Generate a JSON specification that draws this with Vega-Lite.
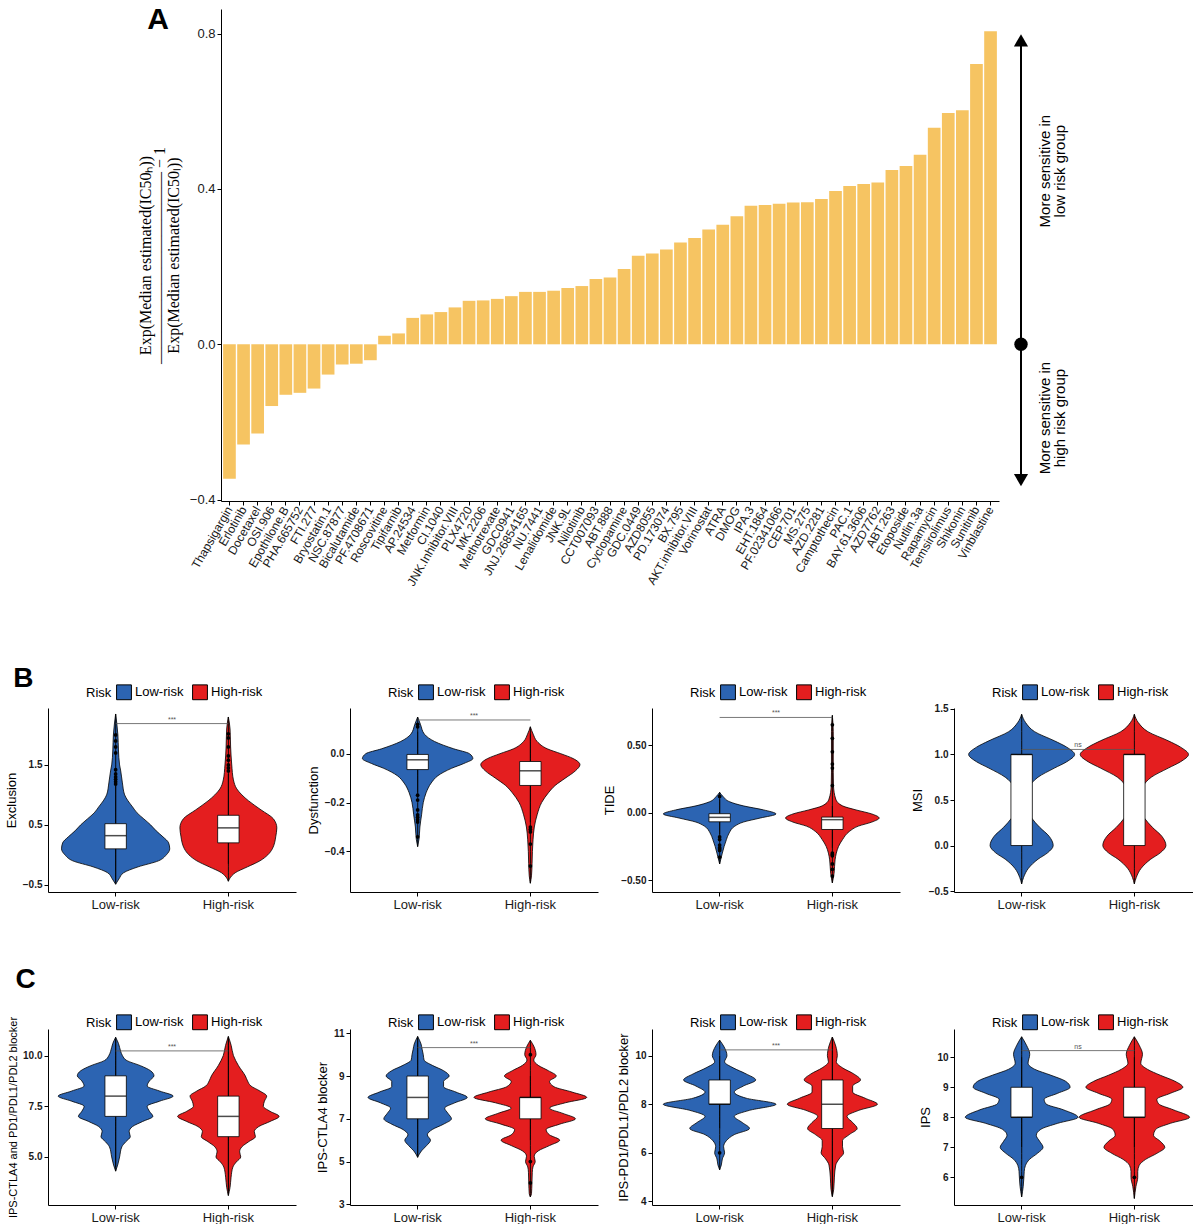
{
"$schema":"https://vega.github.io/schema/vega-lite/v6.json",
"background":"white",
"padding":{"left":5,"top":5,"right":0,"bottom":0},
"spacing":55,
"datasets":{
"bars":[
{"drug":"Thapsigargin","val":-0.346},{"drug":"Erlotinib","val":-0.258},{"drug":"Docetaxel","val":-0.23},{"drug":"OSI.906","val":-0.159},{"drug":"Epothilone.B","val":-0.13},{"drug":"PHA.665752","val":-0.125},{"drug":"FTI.277","val":-0.114},{"drug":"Bryostatin.1","val":-0.078},{"drug":"NSC.87877","val":-0.052},{"drug":"Bicalutamide","val":-0.05},{"drug":"PF.4708671","val":-0.041},{"drug":"Roscovitine","val":0.022},{"drug":"Tipifarnib","val":0.028},{"drug":"AP.24534","val":0.068},{"drug":"Metformin","val":0.077},{"drug":"CI.1040","val":0.083},{"drug":"JNK.Inhibitor.VIII","val":0.095},{"drug":"PLX4720","val":0.112},{"drug":"MK.2206","val":0.113},{"drug":"Methotrexate","val":0.117},{"drug":"GDC0941","val":0.124},{"drug":"JNJ.26854165","val":0.135},{"drug":"NU.7441","val":0.135},{"drug":"Lenalidomide","val":0.138},{"drug":"JNK.9L","val":0.145},{"drug":"Nilotinib","val":0.15},{"drug":"CCT007093","val":0.168},{"drug":"ABT.888","val":0.172},{"drug":"Cyclopamine","val":0.194},{"drug":"GDC.0449","val":0.228},{"drug":"AZD8055","val":0.234},{"drug":"PD.173074","val":0.244},{"drug":"BX.795","val":0.262},{"drug":"AKT.inhibitor.VIII","val":0.274},{"drug":"Vorinostat","val":0.296},{"drug":"ATRA","val":0.308},{"drug":"DMOG","val":0.33},{"drug":"IPA.3","val":0.357},{"drug":"EHT.1864","val":0.359},{"drug":"PF.02341066","val":0.362},{"drug":"CEP.701","val":0.365},{"drug":"MS.275","val":0.366},{"drug":"AZD.2281","val":0.374},{"drug":"Camptothecin","val":0.395},{"drug":"PAC.1","val":0.408},{"drug":"BAY.61.3606","val":0.413},{"drug":"AZD7762","val":0.417},{"drug":"ABT.263","val":0.449},{"drug":"Etoposide","val":0.459},{"drug":"Nutlin.3a","val":0.488},{"drug":"Rapamycin","val":0.558},{"drug":"Temsirolimus","val":0.596},{"drug":"Shikonin","val":0.603},{"drug":"Sunitinib","val":0.722},{"drug":"Vinblastine","val":0.806}
],
"vio":[
{"p":"B1","g":"Low-risk","v":-0.49,"d":0},{"p":"B1","g":"Low-risk","v":-0.4,"d":0.03},{"p":"B1","g":"Low-risk","v":-0.3,"d":0.07},{"p":"B1","g":"Low-risk","v":-0.2,"d":0.2},{"p":"B1","g":"Low-risk","v":-0.1,"d":0.38},{"p":"B1","g":"Low-risk","v":0,"d":0.45},{"p":"B1","g":"Low-risk","v":0.1,"d":0.48},{"p":"B1","g":"Low-risk","v":0.2,"d":0.47},{"p":"B1","g":"Low-risk","v":0.3,"d":0.42},{"p":"B1","g":"Low-risk","v":0.4,"d":0.36},{"p":"B1","g":"Low-risk","v":0.5,"d":0.31},{"p":"B1","g":"Low-risk","v":0.6,"d":0.25},{"p":"B1","g":"Low-risk","v":0.7,"d":0.19},{"p":"B1","g":"Low-risk","v":0.8,"d":0.15},{"p":"B1","g":"Low-risk","v":0.9,"d":0.11},{"p":"B1","g":"Low-risk","v":1.0,"d":0.08},{"p":"B1","g":"Low-risk","v":1.2,"d":0.06},{"p":"B1","g":"Low-risk","v":1.4,"d":0.045},{"p":"B1","g":"Low-risk","v":1.5,"d":0.035},{"p":"B1","g":"Low-risk","v":1.75,"d":0.025},{"p":"B1","g":"Low-risk","v":2.0,"d":0.02},{"p":"B1","g":"Low-risk","v":2.2,"d":0.01},{"p":"B1","g":"Low-risk","v":2.35,"d":0},
{"p":"B1","g":"High-risk","v":-0.44,"d":0},{"p":"B1","g":"High-risk","v":-0.35,"d":0.03},{"p":"B1","g":"High-risk","v":-0.3,"d":0.06},{"p":"B1","g":"High-risk","v":-0.2,"d":0.17},{"p":"B1","g":"High-risk","v":-0.1,"d":0.28},{"p":"B1","g":"High-risk","v":0,"d":0.35},{"p":"B1","g":"High-risk","v":0.1,"d":0.39},{"p":"B1","g":"High-risk","v":0.2,"d":0.41},{"p":"B1","g":"High-risk","v":0.3,"d":0.42},{"p":"B1","g":"High-risk","v":0.45,"d":0.43},{"p":"B1","g":"High-risk","v":0.6,"d":0.4},{"p":"B1","g":"High-risk","v":0.75,"d":0.29},{"p":"B1","g":"High-risk","v":0.9,"d":0.18},{"p":"B1","g":"High-risk","v":1.0,"d":0.12},{"p":"B1","g":"High-risk","v":1.1,"d":0.075},{"p":"B1","g":"High-risk","v":1.25,"d":0.045},{"p":"B1","g":"High-risk","v":1.5,"d":0.03},{"p":"B1","g":"High-risk","v":1.8,"d":0.02},{"p":"B1","g":"High-risk","v":2.1,"d":0.015},{"p":"B1","g":"High-risk","v":2.3,"d":0},
{"p":"B2","g":"Low-risk","v":-0.38,"d":0},{"p":"B2","g":"Low-risk","v":-0.35,"d":0.012},{"p":"B2","g":"Low-risk","v":-0.3,"d":0.02},{"p":"B2","g":"Low-risk","v":-0.25,"d":0.035},{"p":"B2","g":"Low-risk","v":-0.2,"d":0.05},{"p":"B2","g":"Low-risk","v":-0.16,"d":0.075},{"p":"B2","g":"Low-risk","v":-0.12,"d":0.12},{"p":"B2","g":"Low-risk","v":-0.09,"d":0.18},{"p":"B2","g":"Low-risk","v":-0.06,"d":0.3},{"p":"B2","g":"Low-risk","v":-0.04,"d":0.41},{"p":"B2","g":"Low-risk","v":-0.02,"d":0.49},{"p":"B2","g":"Low-risk","v":0,"d":0.46},{"p":"B2","g":"Low-risk","v":0.02,"d":0.32},{"p":"B2","g":"Low-risk","v":0.05,"d":0.15},{"p":"B2","g":"Low-risk","v":0.08,"d":0.06},{"p":"B2","g":"Low-risk","v":0.12,"d":0.025},{"p":"B2","g":"Low-risk","v":0.15,"d":0},
{"p":"B2","g":"High-risk","v":-0.53,"d":0},{"p":"B2","g":"High-risk","v":-0.5,"d":0.01},{"p":"B2","g":"High-risk","v":-0.45,"d":0.015},{"p":"B2","g":"High-risk","v":-0.4,"d":0.018},{"p":"B2","g":"High-risk","v":-0.35,"d":0.024},{"p":"B2","g":"High-risk","v":-0.3,"d":0.035},{"p":"B2","g":"High-risk","v":-0.25,"d":0.06},{"p":"B2","g":"High-risk","v":-0.2,"d":0.1},{"p":"B2","g":"High-risk","v":-0.16,"d":0.16},{"p":"B2","g":"High-risk","v":-0.13,"d":0.22},{"p":"B2","g":"High-risk","v":-0.1,"d":0.31},{"p":"B2","g":"High-risk","v":-0.07,"d":0.4},{"p":"B2","g":"High-risk","v":-0.045,"d":0.44},{"p":"B2","g":"High-risk","v":-0.02,"d":0.38},{"p":"B2","g":"High-risk","v":0,"d":0.27},{"p":"B2","g":"High-risk","v":0.02,"d":0.15},{"p":"B2","g":"High-risk","v":0.05,"d":0.06},{"p":"B2","g":"High-risk","v":0.08,"d":0.025},{"p":"B2","g":"High-risk","v":0.11,"d":0},
{"p":"B3","g":"Low-risk","v":-0.38,"d":0},{"p":"B3","g":"Low-risk","v":-0.3,"d":0.024},{"p":"B3","g":"Low-risk","v":-0.25,"d":0.04},{"p":"B3","g":"Low-risk","v":-0.2,"d":0.06},{"p":"B3","g":"Low-risk","v":-0.15,"d":0.085},{"p":"B3","g":"Low-risk","v":-0.1,"d":0.135},{"p":"B3","g":"Low-risk","v":-0.07,"d":0.21},{"p":"B3","g":"Low-risk","v":-0.04,"d":0.36},{"p":"B3","g":"Low-risk","v":-0.01,"d":0.5},{"p":"B3","g":"Low-risk","v":0.02,"d":0.39},{"p":"B3","g":"Low-risk","v":0.05,"d":0.21},{"p":"B3","g":"Low-risk","v":0.08,"d":0.09},{"p":"B3","g":"Low-risk","v":0.12,"d":0.03},{"p":"B3","g":"Low-risk","v":0.15,"d":0},
{"p":"B3","g":"High-risk","v":-0.52,"d":0},{"p":"B3","g":"High-risk","v":-0.45,"d":0.015},{"p":"B3","g":"High-risk","v":-0.35,"d":0.024},{"p":"B3","g":"High-risk","v":-0.3,"d":0.035},{"p":"B3","g":"High-risk","v":-0.25,"d":0.055},{"p":"B3","g":"High-risk","v":-0.2,"d":0.09},{"p":"B3","g":"High-risk","v":-0.14,"d":0.15},{"p":"B3","g":"High-risk","v":-0.1,"d":0.23},{"p":"B3","g":"High-risk","v":-0.07,"d":0.35},{"p":"B3","g":"High-risk","v":-0.04,"d":0.415},{"p":"B3","g":"High-risk","v":-0.01,"d":0.35},{"p":"B3","g":"High-risk","v":0.02,"d":0.21},{"p":"B3","g":"High-risk","v":0.05,"d":0.09},{"p":"B3","g":"High-risk","v":0.1,"d":0.03},{"p":"B3","g":"High-risk","v":0.2,"d":0.01},{"p":"B3","g":"High-risk","v":0.3,"d":0.008},{"p":"B3","g":"High-risk","v":0.6,"d":0.008},{"p":"B3","g":"High-risk","v":0.72,"d":0},
{"p":"B4","g":"Low-risk","v":-0.42,"d":0},{"p":"B4","g":"Low-risk","v":-0.35,"d":0.017},{"p":"B4","g":"Low-risk","v":-0.25,"d":0.06},{"p":"B4","g":"Low-risk","v":-0.15,"d":0.145},{"p":"B4","g":"Low-risk","v":-0.08,"d":0.23},{"p":"B4","g":"Low-risk","v":0,"d":0.28},{"p":"B4","g":"Low-risk","v":0.1,"d":0.245},{"p":"B4","g":"Low-risk","v":0.2,"d":0.16},{"p":"B4","g":"Low-risk","v":0.3,"d":0.09},{"p":"B4","g":"Low-risk","v":0.4,"d":0.045},{"p":"B4","g":"Low-risk","v":0.5,"d":0.04},{"p":"B4","g":"Low-risk","v":0.55,"d":0.045},{"p":"B4","g":"Low-risk","v":0.65,"d":0.07},{"p":"B4","g":"Low-risk","v":0.75,"d":0.145},{"p":"B4","g":"Low-risk","v":0.85,"d":0.29},{"p":"B4","g":"Low-risk","v":0.92,"d":0.4},{"p":"B4","g":"Low-risk","v":1.0,"d":0.47},{"p":"B4","g":"Low-risk","v":1.08,"d":0.4},{"p":"B4","g":"Low-risk","v":1.15,"d":0.29},{"p":"B4","g":"Low-risk","v":1.25,"d":0.115},{"p":"B4","g":"Low-risk","v":1.35,"d":0.035},{"p":"B4","g":"Low-risk","v":1.44,"d":0},
{"p":"B4","g":"High-risk","v":-0.42,"d":0},{"p":"B4","g":"High-risk","v":-0.35,"d":0.017},{"p":"B4","g":"High-risk","v":-0.25,"d":0.06},{"p":"B4","g":"High-risk","v":-0.15,"d":0.145},{"p":"B4","g":"High-risk","v":-0.08,"d":0.23},{"p":"B4","g":"High-risk","v":0,"d":0.28},{"p":"B4","g":"High-risk","v":0.1,"d":0.245},{"p":"B4","g":"High-risk","v":0.2,"d":0.16},{"p":"B4","g":"High-risk","v":0.3,"d":0.09},{"p":"B4","g":"High-risk","v":0.4,"d":0.045},{"p":"B4","g":"High-risk","v":0.5,"d":0.04},{"p":"B4","g":"High-risk","v":0.55,"d":0.045},{"p":"B4","g":"High-risk","v":0.65,"d":0.075},{"p":"B4","g":"High-risk","v":0.75,"d":0.15},{"p":"B4","g":"High-risk","v":0.85,"d":0.3},{"p":"B4","g":"High-risk","v":0.92,"d":0.41},{"p":"B4","g":"High-risk","v":1.0,"d":0.48},{"p":"B4","g":"High-risk","v":1.08,"d":0.41},{"p":"B4","g":"High-risk","v":1.15,"d":0.3},{"p":"B4","g":"High-risk","v":1.25,"d":0.12},{"p":"B4","g":"High-risk","v":1.35,"d":0.035},{"p":"B4","g":"High-risk","v":1.44,"d":0},
{"p":"C1","g":"Low-risk","v":4.3,"d":0},{"p":"C1","g":"Low-risk","v":4.6,"d":0.018},{"p":"C1","g":"Low-risk","v":5.0,"d":0.035},{"p":"C1","g":"Low-risk","v":5.5,"d":0.055},{"p":"C1","g":"Low-risk","v":5.75,"d":0.09},{"p":"C1","g":"Low-risk","v":6.0,"d":0.13},{"p":"C1","g":"Low-risk","v":6.25,"d":0.12},{"p":"C1","g":"Low-risk","v":6.5,"d":0.15},{"p":"C1","g":"Low-risk","v":6.75,"d":0.24},{"p":"C1","g":"Low-risk","v":7.0,"d":0.33},{"p":"C1","g":"Low-risk","v":7.25,"d":0.3},{"p":"C1","g":"Low-risk","v":7.5,"d":0.28},{"p":"C1","g":"Low-risk","v":7.75,"d":0.39},{"p":"C1","g":"Low-risk","v":8.0,"d":0.51},{"p":"C1","g":"Low-risk","v":8.25,"d":0.39},{"p":"C1","g":"Low-risk","v":8.5,"d":0.28},{"p":"C1","g":"Low-risk","v":8.75,"d":0.3},{"p":"C1","g":"Low-risk","v":9.0,"d":0.34},{"p":"C1","g":"Low-risk","v":9.25,"d":0.31},{"p":"C1","g":"Low-risk","v":9.5,"d":0.22},{"p":"C1","g":"Low-risk","v":9.75,"d":0.1},{"p":"C1","g":"Low-risk","v":10.0,"d":0.06},{"p":"C1","g":"Low-risk","v":10.2,"d":0.045},{"p":"C1","g":"Low-risk","v":10.6,"d":0.025},{"p":"C1","g":"Low-risk","v":10.9,"d":0},
{"p":"C1","g":"High-risk","v":3.1,"d":0},{"p":"C1","g":"High-risk","v":3.5,"d":0.015},{"p":"C1","g":"High-risk","v":4.0,"d":0.024},{"p":"C1","g":"High-risk","v":4.5,"d":0.04},{"p":"C1","g":"High-risk","v":4.75,"d":0.07},{"p":"C1","g":"High-risk","v":5.0,"d":0.11},{"p":"C1","g":"High-risk","v":5.25,"d":0.1},{"p":"C1","g":"High-risk","v":5.5,"d":0.12},{"p":"C1","g":"High-risk","v":5.75,"d":0.18},{"p":"C1","g":"High-risk","v":6.0,"d":0.24},{"p":"C1","g":"High-risk","v":6.25,"d":0.23},{"p":"C1","g":"High-risk","v":6.5,"d":0.27},{"p":"C1","g":"High-risk","v":6.75,"d":0.37},{"p":"C1","g":"High-risk","v":7.0,"d":0.45},{"p":"C1","g":"High-risk","v":7.25,"d":0.37},{"p":"C1","g":"High-risk","v":7.5,"d":0.31},{"p":"C1","g":"High-risk","v":7.75,"d":0.32},{"p":"C1","g":"High-risk","v":8.0,"d":0.34},{"p":"C1","g":"High-risk","v":8.25,"d":0.28},{"p":"C1","g":"High-risk","v":8.5,"d":0.2},{"p":"C1","g":"High-risk","v":8.75,"d":0.17},{"p":"C1","g":"High-risk","v":9.0,"d":0.15},{"p":"C1","g":"High-risk","v":9.5,"d":0.09},{"p":"C1","g":"High-risk","v":10.0,"d":0.045},{"p":"C1","g":"High-risk","v":10.5,"d":0.025},{"p":"C1","g":"High-risk","v":10.94,"d":0},
{"p":"C2","g":"Low-risk","v":5.2,"d":0},{"p":"C2","g":"Low-risk","v":5.5,"d":0.034},{"p":"C2","g":"Low-risk","v":5.75,"d":0.08},{"p":"C2","g":"Low-risk","v":6.0,"d":0.114},{"p":"C2","g":"Low-risk","v":6.25,"d":0.086},{"p":"C2","g":"Low-risk","v":6.5,"d":0.13},{"p":"C2","g":"Low-risk","v":6.75,"d":0.23},{"p":"C2","g":"Low-risk","v":7.0,"d":0.3},{"p":"C2","g":"Low-risk","v":7.25,"d":0.27},{"p":"C2","g":"Low-risk","v":7.5,"d":0.24},{"p":"C2","g":"Low-risk","v":7.75,"d":0.33},{"p":"C2","g":"Low-risk","v":8.0,"d":0.44},{"p":"C2","g":"Low-risk","v":8.25,"d":0.34},{"p":"C2","g":"Low-risk","v":8.5,"d":0.23},{"p":"C2","g":"Low-risk","v":8.75,"d":0.23},{"p":"C2","g":"Low-risk","v":9.0,"d":0.28},{"p":"C2","g":"Low-risk","v":9.25,"d":0.23},{"p":"C2","g":"Low-risk","v":9.5,"d":0.13},{"p":"C2","g":"Low-risk","v":9.75,"d":0.057},{"p":"C2","g":"Low-risk","v":10.0,"d":0.05},{"p":"C2","g":"Low-risk","v":10.25,"d":0.04},{"p":"C2","g":"Low-risk","v":10.5,"d":0.03},{"p":"C2","g":"Low-risk","v":10.85,"d":0},
{"p":"C2","g":"High-risk","v":3.35,"d":0},{"p":"C2","g":"High-risk","v":3.5,"d":0.01},{"p":"C2","g":"High-risk","v":4.0,"d":0.014},{"p":"C2","g":"High-risk","v":4.5,"d":0.017},{"p":"C2","g":"High-risk","v":4.75,"d":0.023},{"p":"C2","g":"High-risk","v":5.0,"d":0.043},{"p":"C2","g":"High-risk","v":5.25,"d":0.034},{"p":"C2","g":"High-risk","v":5.5,"d":0.07},{"p":"C2","g":"High-risk","v":5.75,"d":0.17},{"p":"C2","g":"High-risk","v":6.0,"d":0.26},{"p":"C2","g":"High-risk","v":6.25,"d":0.17},{"p":"C2","g":"High-risk","v":6.5,"d":0.14},{"p":"C2","g":"High-risk","v":6.75,"d":0.26},{"p":"C2","g":"High-risk","v":7.0,"d":0.4},{"p":"C2","g":"High-risk","v":7.25,"d":0.29},{"p":"C2","g":"High-risk","v":7.5,"d":0.17},{"p":"C2","g":"High-risk","v":7.75,"d":0.31},{"p":"C2","g":"High-risk","v":8.0,"d":0.5},{"p":"C2","g":"High-risk","v":8.25,"d":0.37},{"p":"C2","g":"High-risk","v":8.5,"d":0.21},{"p":"C2","g":"High-risk","v":8.75,"d":0.17},{"p":"C2","g":"High-risk","v":9.0,"d":0.23},{"p":"C2","g":"High-risk","v":9.25,"d":0.16},{"p":"C2","g":"High-risk","v":9.5,"d":0.07},{"p":"C2","g":"High-risk","v":9.75,"d":0.03},{"p":"C2","g":"High-risk","v":10.0,"d":0.05},{"p":"C2","g":"High-risk","v":10.4,"d":0.03},{"p":"C2","g":"High-risk","v":10.67,"d":0},
{"p":"C3","g":"Low-risk","v":5.3,"d":0},{"p":"C3","g":"Low-risk","v":5.5,"d":0.015},{"p":"C3","g":"Low-risk","v":5.75,"d":0.024},{"p":"C3","g":"Low-risk","v":6.0,"d":0.044},{"p":"C3","g":"Low-risk","v":6.25,"d":0.035},{"p":"C3","g":"Low-risk","v":6.5,"d":0.06},{"p":"C3","g":"Low-risk","v":6.75,"d":0.13},{"p":"C3","g":"Low-risk","v":7.0,"d":0.265},{"p":"C3","g":"Low-risk","v":7.25,"d":0.2},{"p":"C3","g":"Low-risk","v":7.5,"d":0.13},{"p":"C3","g":"Low-risk","v":7.75,"d":0.265},{"p":"C3","g":"Low-risk","v":8.0,"d":0.5},{"p":"C3","g":"Low-risk","v":8.25,"d":0.235},{"p":"C3","g":"Low-risk","v":8.5,"d":0.13},{"p":"C3","g":"Low-risk","v":8.75,"d":0.21},{"p":"C3","g":"Low-risk","v":9.0,"d":0.32},{"p":"C3","g":"Low-risk","v":9.25,"d":0.235},{"p":"C3","g":"Low-risk","v":9.5,"d":0.12},{"p":"C3","g":"Low-risk","v":9.75,"d":0.044},{"p":"C3","g":"Low-risk","v":10.0,"d":0.065},{"p":"C3","g":"Low-risk","v":10.4,"d":0.035},{"p":"C3","g":"Low-risk","v":10.64,"d":0},
{"p":"C3","g":"High-risk","v":4.2,"d":0},{"p":"C3","g":"High-risk","v":4.5,"d":0.012},{"p":"C3","g":"High-risk","v":5.0,"d":0.018},{"p":"C3","g":"High-risk","v":5.5,"d":0.03},{"p":"C3","g":"High-risk","v":5.75,"d":0.06},{"p":"C3","g":"High-risk","v":6.0,"d":0.1},{"p":"C3","g":"High-risk","v":6.25,"d":0.09},{"p":"C3","g":"High-risk","v":6.5,"d":0.09},{"p":"C3","g":"High-risk","v":6.75,"d":0.15},{"p":"C3","g":"High-risk","v":7.0,"d":0.22},{"p":"C3","g":"High-risk","v":7.25,"d":0.18},{"p":"C3","g":"High-risk","v":7.5,"d":0.13},{"p":"C3","g":"High-risk","v":7.75,"d":0.235},{"p":"C3","g":"High-risk","v":8.0,"d":0.4},{"p":"C3","g":"High-risk","v":8.25,"d":0.29},{"p":"C3","g":"High-risk","v":8.5,"d":0.18},{"p":"C3","g":"High-risk","v":8.75,"d":0.18},{"p":"C3","g":"High-risk","v":9.0,"d":0.25},{"p":"C3","g":"High-risk","v":9.25,"d":0.19},{"p":"C3","g":"High-risk","v":9.5,"d":0.09},{"p":"C3","g":"High-risk","v":9.75,"d":0.035},{"p":"C3","g":"High-risk","v":10.0,"d":0.044},{"p":"C3","g":"High-risk","v":10.4,"d":0.03},{"p":"C3","g":"High-risk","v":10.77,"d":0},
{"p":"C4","g":"Low-risk","v":5.35,"d":0},{"p":"C4","g":"Low-risk","v":5.7,"d":0.014},{"p":"C4","g":"Low-risk","v":6.0,"d":0.02},{"p":"C4","g":"Low-risk","v":6.2,"d":0.023},{"p":"C4","g":"Low-risk","v":6.4,"d":0.034},{"p":"C4","g":"Low-risk","v":6.6,"d":0.07},{"p":"C4","g":"Low-risk","v":6.8,"d":0.14},{"p":"C4","g":"Low-risk","v":7.0,"d":0.19},{"p":"C4","g":"Low-risk","v":7.2,"d":0.16},{"p":"C4","g":"Low-risk","v":7.4,"d":0.13},{"p":"C4","g":"Low-risk","v":7.6,"d":0.17},{"p":"C4","g":"Low-risk","v":7.8,"d":0.32},{"p":"C4","g":"Low-risk","v":8.0,"d":0.5},{"p":"C4","g":"Low-risk","v":8.25,"d":0.37},{"p":"C4","g":"Low-risk","v":8.45,"d":0.215},{"p":"C4","g":"Low-risk","v":8.6,"d":0.2},{"p":"C4","g":"Low-risk","v":8.8,"d":0.32},{"p":"C4","g":"Low-risk","v":9.0,"d":0.43},{"p":"C4","g":"Low-risk","v":9.2,"d":0.39},{"p":"C4","g":"Low-risk","v":9.4,"d":0.26},{"p":"C4","g":"Low-risk","v":9.6,"d":0.115},{"p":"C4","g":"Low-risk","v":9.8,"d":0.057},{"p":"C4","g":"Low-risk","v":10.1,"d":0.072},{"p":"C4","g":"Low-risk","v":10.4,"d":0.043},{"p":"C4","g":"Low-risk","v":10.68,"d":0},
{"p":"C4","g":"High-risk","v":5.3,"d":0},{"p":"C4","g":"High-risk","v":5.7,"d":0.014},{"p":"C4","g":"High-risk","v":6.0,"d":0.03},{"p":"C4","g":"High-risk","v":6.2,"d":0.03},{"p":"C4","g":"High-risk","v":6.4,"d":0.043},{"p":"C4","g":"High-risk","v":6.6,"d":0.1},{"p":"C4","g":"High-risk","v":6.8,"d":0.2},{"p":"C4","g":"High-risk","v":7.0,"d":0.27},{"p":"C4","g":"High-risk","v":7.2,"d":0.23},{"p":"C4","g":"High-risk","v":7.4,"d":0.17},{"p":"C4","g":"High-risk","v":7.6,"d":0.19},{"p":"C4","g":"High-risk","v":7.8,"d":0.32},{"p":"C4","g":"High-risk","v":8.0,"d":0.49},{"p":"C4","g":"High-risk","v":8.25,"d":0.345},{"p":"C4","g":"High-risk","v":8.45,"d":0.215},{"p":"C4","g":"High-risk","v":8.6,"d":0.2},{"p":"C4","g":"High-risk","v":8.8,"d":0.32},{"p":"C4","g":"High-risk","v":9.0,"d":0.43},{"p":"C4","g":"High-risk","v":9.2,"d":0.36},{"p":"C4","g":"High-risk","v":9.4,"d":0.23},{"p":"C4","g":"High-risk","v":9.6,"d":0.115},{"p":"C4","g":"High-risk","v":9.8,"d":0.057},{"p":"C4","g":"High-risk","v":10.1,"d":0.072},{"p":"C4","g":"High-risk","v":10.4,"d":0.043},{"p":"C4","g":"High-risk","v":10.68,"d":0}
],
"box":[
{"p":"B1","g":"Low-risk","lo":-0.45,"q1":0.1,"med":0.32,"q3":0.52,"hi":1.15},{"p":"B1","g":"High-risk","lo":-0.15,"q1":0.2,"med":0.45,"q3":0.66,"hi":1.35},
{"p":"B2","g":"Low-risk","lo":-0.16,"q1":-0.065,"med":-0.025,"q3":-0.003,"hi":0.09},{"p":"B2","g":"High-risk","lo":-0.28,"q1":-0.13,"med":-0.07,"q3":-0.032,"hi":0.08},
{"p":"B3","g":"Low-risk","lo":-0.16,"q1":-0.068,"med":-0.035,"q3":-0.008,"hi":0.1},{"p":"B3","g":"High-risk","lo":-0.26,"q1":-0.125,"med":-0.052,"q3":-0.033,"hi":0.05},
{"p":"B4","g":"Low-risk","lo":0,"q1":0,"med":1,"q3":1,"hi":1},{"p":"B4","g":"High-risk","lo":0,"q1":0,"med":1,"q3":1,"hi":1},
{"p":"C1","g":"Low-risk","lo":4.5,"q1":7,"med":8,"q3":9,"hi":10.8},{"p":"C1","g":"High-risk","lo":3.2,"q1":6,"med":7,"q3":8,"hi":10.9},
{"p":"C2","g":"Low-risk","lo":5.3,"q1":7,"med":8,"q3":9,"hi":10.8},{"p":"C2","g":"High-risk","lo":6,"q1":7,"med":8,"q3":8,"hi":9},
{"p":"C3","g":"Low-risk","lo":7,"q1":8,"med":8,"q3":9,"hi":10},{"p":"C3","g":"High-risk","lo":4.2,"q1":7,"med":8,"q3":9,"hi":10.7},
{"p":"C4","g":"Low-risk","lo":7,"q1":8,"med":8,"q3":9,"hi":10},{"p":"C4","g":"High-risk","lo":7,"q1":8,"med":8,"q3":9,"hi":10}
],
"out":[
{"p":"B1","g":"Low-risk","v":1.18},{"p":"B1","g":"Low-risk","v":1.22},{"p":"B1","g":"Low-risk","v":1.26},{"p":"B1","g":"Low-risk","v":1.3},{"p":"B1","g":"Low-risk","v":1.35},{"p":"B1","g":"Low-risk","v":1.42},{"p":"B1","g":"Low-risk","v":1.7},{"p":"B1","g":"Low-risk","v":1.8},{"p":"B1","g":"Low-risk","v":1.9},{"p":"B1","g":"Low-risk","v":2.0},
{"p":"B1","g":"High-risk","v":1.4},{"p":"B1","g":"High-risk","v":1.45},{"p":"B1","g":"High-risk","v":1.5},{"p":"B1","g":"High-risk","v":1.58},{"p":"B1","g":"High-risk","v":1.65},{"p":"B1","g":"High-risk","v":1.8},{"p":"B1","g":"High-risk","v":1.95},{"p":"B1","g":"High-risk","v":2.02},
{"p":"B2","g":"Low-risk","v":0.11},{"p":"B2","g":"Low-risk","v":0.12},{"p":"B2","g":"Low-risk","v":-0.17},{"p":"B2","g":"Low-risk","v":-0.19},{"p":"B2","g":"Low-risk","v":-0.23},{"p":"B2","g":"Low-risk","v":-0.25},{"p":"B2","g":"Low-risk","v":-0.26},{"p":"B2","g":"Low-risk","v":-0.27},{"p":"B2","g":"Low-risk","v":-0.28},{"p":"B2","g":"Low-risk","v":-0.34},
{"p":"B2","g":"High-risk","v":-0.3},{"p":"B2","g":"High-risk","v":-0.31},{"p":"B2","g":"High-risk","v":-0.32},{"p":"B2","g":"High-risk","v":-0.37},{"p":"B2","g":"High-risk","v":-0.46},
{"p":"B3","g":"Low-risk","v":0.12},{"p":"B3","g":"Low-risk","v":-0.18},{"p":"B3","g":"Low-risk","v":-0.2},{"p":"B3","g":"Low-risk","v":-0.24},{"p":"B3","g":"Low-risk","v":-0.26},{"p":"B3","g":"Low-risk","v":-0.27},{"p":"B3","g":"Low-risk","v":-0.28},{"p":"B3","g":"Low-risk","v":-0.33},
{"p":"B3","g":"High-risk","v":0.2},{"p":"B3","g":"High-risk","v":0.33},{"p":"B3","g":"High-risk","v":0.36},{"p":"B3","g":"High-risk","v":0.45},{"p":"B3","g":"High-risk","v":0.55},{"p":"B3","g":"High-risk","v":0.65},{"p":"B3","g":"High-risk","v":-0.3},{"p":"B3","g":"High-risk","v":-0.31},{"p":"B3","g":"High-risk","v":-0.32},{"p":"B3","g":"High-risk","v":-0.38},{"p":"B3","g":"High-risk","v":-0.42},{"p":"B3","g":"High-risk","v":-0.47},
{"p":"C2","g":"High-risk","v":10},{"p":"C2","g":"High-risk","v":5},{"p":"C2","g":"High-risk","v":4},
{"p":"C3","g":"Low-risk","v":6},{"p":"C4","g":"Low-risk","v":6},{"p":"C4","g":"High-risk","v":6}
]
},
"resolve":{"scale":{"fill":"independent"},"legend":{"fill":"independent"}},
"vconcat":[
{"hconcat":[
{"width":76,"height":10,"data":{"values":[]},"mark":"point"},
{"width":778,"height":492,"data":{"name":"bars"},
"title":{"text":"A","anchor":"start","frame":"bounds","offset":-26,"fontSize":30,"dx":10},
"mark":{"type":"bar","color":"#F6C462"},
"encoding":{
"x":{"field":"drug","type":"nominal","sort":null,"title":" ","scale":{"paddingInner":0.1,"paddingOuter":0.15},"axis":{"labelAngle":-60,"labelAlign":"right","labelBaseline":"middle","labelFontSize":12,"labelFontWeight":"normal","labelOverlap":false,"labelPadding":2,"tickSize":4,"titleFontSize":10,"titlePadding":12}},
"y":{"field":"val","type":"quantitative","scale":{"domain":[-0.4036,0.8636],"nice":false,"zero":false},
"title":["Exp(Median estimated(IC50ₕ))","  ————————————  − 1","Exp(Median estimated(IC50ₗ))"],
"axis":{"values":[-0.4,0,0.4,0.8],"format":".1f","labelFontSize":13,"labelFontWeight":"normal","titleFont":"Liberation Serif","titleFontSize":16,"titleLineHeight":14,"titlePadding":8,"tickSize":4}}}},
{"width":60,"height":492,"data":{"values":[{}]},
"layer":[
{"mark":{"type":"rule","strokeWidth":2,"color":"black"},"encoding":{"x":{"datum":9,"type":"quantitative","scale":{"domain":[0,60]},"axis":null},"y":{"datum":-0.35,"type":"quantitative","scale":{"domain":[-0.4036,0.8636],"nice":false,"zero":false},"axis":null},"y2":{"datum":0.783}}},
{"mark":{"type":"point","shape":"triangle-up","filled":true,"color":"black","size":200,"opacity":1},"encoding":{"x":{"datum":9,"type":"quantitative","scale":{"domain":[0,60]},"axis":null},"y":{"datum":0.783,"type":"quantitative","scale":{"domain":[-0.4036,0.8636],"nice":false,"zero":false},"axis":null}}},
{"mark":{"type":"point","shape":"triangle-down","filled":true,"color":"black","size":200,"opacity":1},"encoding":{"x":{"datum":9,"type":"quantitative","scale":{"domain":[0,60]},"axis":null},"y":{"datum":-0.35,"type":"quantitative","scale":{"domain":[-0.4036,0.8636],"nice":false,"zero":false},"axis":null}}},
{"mark":{"type":"point","shape":"circle","filled":true,"color":"black","size":180,"opacity":1},"encoding":{"x":{"datum":9,"type":"quantitative","scale":{"domain":[0,60]},"axis":null},"y":{"datum":0,"type":"quantitative","scale":{"domain":[-0.4036,0.8636],"nice":false,"zero":false},"axis":null}}},
{"mark":{"type":"text","angle":270,"fontSize":15,"lineHeight":15,"align":"center","baseline":"middle","color":"black"},"encoding":{"x":{"datum":33,"type":"quantitative","scale":{"domain":[0,60]},"axis":null},"y":{"datum":0.446,"type":"quantitative","scale":{"domain":[-0.4036,0.8636],"nice":false,"zero":false},"axis":null},"text":{"value":["More sensitive in","low risk group"]}}},
{"mark":{"type":"text","angle":270,"fontSize":15,"lineHeight":15,"align":"center","baseline":"middle","color":"black"},"encoding":{"x":{"datum":33,"type":"quantitative","scale":{"domain":[0,60]},"axis":null},"y":{"datum":-0.19,"type":"quantitative","scale":{"domain":[-0.4036,0.8636],"nice":false,"zero":false},"axis":null},"text":{"value":["More sensitive in","high risk group"]}}}
]}
],"spacing":13},
{"title":{"text":"B","anchor":"start","frame":"bounds","offset":-9,"fontSize":28,"dx":8},
"spacing":54,"bounds":"flush",
"resolve":{"scale":{"fill":"independent"},"legend":{"fill":"independent"}},
"hconcat":[
{"width":248,"height":184,"resolve":{"scale":{"x":"independent"},"axis":{"x":"independent"}},"layer":[
{"data":{"name":"vio"},"transform":[{"filter":"datum.p=='B1'&&datum.g=='Low-risk'"}],"mark":{"type":"area","orient":"horizontal","interpolate":"monotone","stroke":"black","strokeWidth":0.8},"encoding":{"y":{"field":"v","type":"quantitative","scale":{"domain":[-0.62,2.45],"nice":false,"zero":false},"title":"Exclusion","axis":{"values":[-0.5,0,0.5,1,1.5,2],"format":".1f"}},"x":{"field":"d","type":"quantitative","stack":null,"scale":{"domain":[-0.6,1.6]},"axis":null},"fill":{"field":"g","type":"nominal","title":"Risk","scale":{"domain":["Low-risk","High-risk"],"range":["#2C64B2","#E41E1F"]},"legend":{"orient":"none","legendX":38,"legendY":-24}}}},
{"data":{"name":"vio"},"transform":[{"filter":"datum.p=='B1'&&datum.g=='Low-risk'"}],"mark":{"type":"area","orient":"horizontal","interpolate":"monotone","stroke":"black","strokeWidth":0.8},"encoding":{"y":{"field":"v","type":"quantitative","scale":{"domain":[-0.62,2.45],"nice":false,"zero":false}},"x":{"field":"d","type":"quantitative","stack":null,"scale":{"domain":[-1.6,0.6],"reverse":true},"axis":null},"fill":{"field":"g","type":"nominal","scale":{"domain":["Low-risk","High-risk"],"range":["#2C64B2","#E41E1F"]}}}},
{"data":{"name":"vio"},"transform":[{"filter":"datum.p=='B1'&&datum.g=='High-risk'"}],"mark":{"type":"area","orient":"horizontal","interpolate":"monotone","stroke":"black","strokeWidth":0.8},"encoding":{"y":{"field":"v","type":"quantitative","scale":{"domain":[-0.62,2.45],"nice":false,"zero":false}},"x":{"field":"d","type":"quantitative","stack":null,"scale":{"domain":[-1.6,0.6]},"axis":null},"fill":{"field":"g","type":"nominal","scale":{"domain":["Low-risk","High-risk"],"range":["#2C64B2","#E41E1F"]}}}},
{"data":{"name":"vio"},"transform":[{"filter":"datum.p=='B1'&&datum.g=='High-risk'"}],"mark":{"type":"area","orient":"horizontal","interpolate":"monotone","stroke":"black","strokeWidth":0.8},"encoding":{"y":{"field":"v","type":"quantitative","scale":{"domain":[-0.62,2.45],"nice":false,"zero":false}},"x":{"field":"d","type":"quantitative","stack":null,"scale":{"domain":[-0.6,1.6],"reverse":true},"axis":null},"fill":{"field":"g","type":"nominal","scale":{"domain":["Low-risk","High-risk"],"range":["#2C64B2","#E41E1F"]}}}},
{"data":{"name":"box"},"transform":[{"filter":"datum.p=='B1'"}],"mark":{"type":"rule","color":"black","strokeWidth":0.8},"encoding":{"x":{"field":"g","type":"nominal","scale":{"type":"point","domain":["Low-risk","High-risk"],"padding":0.6},"axis":null},"y":{"field":"lo","type":"quantitative","scale":{"domain":[-0.62,2.45],"nice":false,"zero":false}},"y2":{"field":"hi"}}},
{"data":{"name":"out"},"transform":[{"filter":"datum.p=='B1'"}],"mark":{"type":"point","filled":true,"color":"black","size":14,"opacity":1},"encoding":{"x":{"field":"g","type":"nominal","scale":{"type":"point","domain":["Low-risk","High-risk"],"padding":0.6},"axis":null},"y":{"field":"v","type":"quantitative","scale":{"domain":[-0.62,2.45],"nice":false,"zero":false}}}},
{"data":{"name":"box"},"transform":[{"filter":"datum.p=='B1'"}],"mark":{"type":"bar","fill":"white","stroke":"black","strokeWidth":0.8,"width":{"band":0.19}},"encoding":{"x":{"field":"g","type":"nominal","title":null,"scale":{"type":"band","domain":["Low-risk","High-risk"],"paddingInner":0,"paddingOuter":0.1},"axis":{"labelAngle":0}},"y":{"field":"q1","type":"quantitative","scale":{"domain":[-0.62,2.45],"nice":false,"zero":false}},"y2":{"field":"q3"}}},
{"data":{"name":"box"},"transform":[{"filter":"datum.p=='B1'"}],"mark":{"type":"tick","color":"black","size":21,"thickness":1.5},"encoding":{"x":{"field":"g","type":"nominal","scale":{"type":"point","domain":["Low-risk","High-risk"],"padding":0.6},"axis":null},"y":{"field":"med","type":"quantitative","scale":{"domain":[-0.62,2.45],"nice":false,"zero":false}}}},
{"data":{"values":[{}]},"mark":{"type":"rule","color":"#555555","strokeWidth":0.8},"encoding":{"x":{"datum":1,"type":"quantitative","scale":{"domain":[0.4,2.6]},"axis":null},"x2":{"datum":2},"y":{"datum":2.19,"type":"quantitative","scale":{"domain":[-0.62,2.45],"nice":false,"zero":false}}}},
{"data":{"values":[{}]},"mark":{"type":"text","fontSize":7,"color":"#555555","baseline":"bottom","dy":-1},"encoding":{"x":{"datum":1.5,"type":"quantitative","scale":{"domain":[0.4,2.6]},"axis":null},"y":{"datum":2.19,"type":"quantitative","scale":{"domain":[-0.62,2.45],"nice":false,"zero":false}},"text":{"value":"***"}}}
]},
{"width":248,"height":184,"resolve":{"scale":{"x":"independent"},"axis":{"x":"independent"}},"layer":[
{"data":{"name":"vio"},"transform":[{"filter":"datum.p=='B2'&&datum.g=='Low-risk'"}],"mark":{"type":"area","orient":"horizontal","interpolate":"monotone","stroke":"black","strokeWidth":0.8},"encoding":{"y":{"field":"v","type":"quantitative","scale":{"domain":[-0.566,0.187],"nice":false,"zero":false},"title":"Dysfunction","axis":{"values":[-0.4,-0.2,0],"format":".1f"}},"x":{"field":"d","type":"quantitative","stack":null,"scale":{"domain":[-0.6,1.6]},"axis":null},"fill":{"field":"g","type":"nominal","title":"Risk","scale":{"domain":["Low-risk","High-risk"],"range":["#2C64B2","#E41E1F"]},"legend":{"orient":"none","legendX":38,"legendY":-24}}}},
{"data":{"name":"vio"},"transform":[{"filter":"datum.p=='B2'&&datum.g=='Low-risk'"}],"mark":{"type":"area","orient":"horizontal","interpolate":"monotone","stroke":"black","strokeWidth":0.8},"encoding":{"y":{"field":"v","type":"quantitative","scale":{"domain":[-0.566,0.187],"nice":false,"zero":false}},"x":{"field":"d","type":"quantitative","stack":null,"scale":{"domain":[-1.6,0.6],"reverse":true},"axis":null},"fill":{"field":"g","type":"nominal","scale":{"domain":["Low-risk","High-risk"],"range":["#2C64B2","#E41E1F"]}}}},
{"data":{"name":"vio"},"transform":[{"filter":"datum.p=='B2'&&datum.g=='High-risk'"}],"mark":{"type":"area","orient":"horizontal","interpolate":"monotone","stroke":"black","strokeWidth":0.8},"encoding":{"y":{"field":"v","type":"quantitative","scale":{"domain":[-0.566,0.187],"nice":false,"zero":false}},"x":{"field":"d","type":"quantitative","stack":null,"scale":{"domain":[-1.6,0.6]},"axis":null},"fill":{"field":"g","type":"nominal","scale":{"domain":["Low-risk","High-risk"],"range":["#2C64B2","#E41E1F"]}}}},
{"data":{"name":"vio"},"transform":[{"filter":"datum.p=='B2'&&datum.g=='High-risk'"}],"mark":{"type":"area","orient":"horizontal","interpolate":"monotone","stroke":"black","strokeWidth":0.8},"encoding":{"y":{"field":"v","type":"quantitative","scale":{"domain":[-0.566,0.187],"nice":false,"zero":false}},"x":{"field":"d","type":"quantitative","stack":null,"scale":{"domain":[-0.6,1.6],"reverse":true},"axis":null},"fill":{"field":"g","type":"nominal","scale":{"domain":["Low-risk","High-risk"],"range":["#2C64B2","#E41E1F"]}}}},
{"data":{"name":"box"},"transform":[{"filter":"datum.p=='B2'"}],"mark":{"type":"rule","color":"black","strokeWidth":0.8},"encoding":{"x":{"field":"g","type":"nominal","scale":{"type":"point","domain":["Low-risk","High-risk"],"padding":0.6},"axis":null},"y":{"field":"lo","type":"quantitative","scale":{"domain":[-0.566,0.187],"nice":false,"zero":false}},"y2":{"field":"hi"}}},
{"data":{"name":"out"},"transform":[{"filter":"datum.p=='B2'"}],"mark":{"type":"point","filled":true,"color":"black","size":14,"opacity":1},"encoding":{"x":{"field":"g","type":"nominal","scale":{"type":"point","domain":["Low-risk","High-risk"],"padding":0.6},"axis":null},"y":{"field":"v","type":"quantitative","scale":{"domain":[-0.566,0.187],"nice":false,"zero":false}}}},
{"data":{"name":"box"},"transform":[{"filter":"datum.p=='B2'"}],"mark":{"type":"bar","fill":"white","stroke":"black","strokeWidth":0.8,"width":{"band":0.19}},"encoding":{"x":{"field":"g","type":"nominal","title":null,"scale":{"type":"band","domain":["Low-risk","High-risk"],"paddingInner":0,"paddingOuter":0.1},"axis":{"labelAngle":0}},"y":{"field":"q1","type":"quantitative","scale":{"domain":[-0.566,0.187],"nice":false,"zero":false}},"y2":{"field":"q3"}}},
{"data":{"name":"box"},"transform":[{"filter":"datum.p=='B2'"}],"mark":{"type":"tick","color":"black","size":21,"thickness":1.5},"encoding":{"x":{"field":"g","type":"nominal","scale":{"type":"point","domain":["Low-risk","High-risk"],"padding":0.6},"axis":null},"y":{"field":"med","type":"quantitative","scale":{"domain":[-0.566,0.187],"nice":false,"zero":false}}}},
{"data":{"values":[{}]},"mark":{"type":"rule","color":"#555555","strokeWidth":0.8},"encoding":{"x":{"datum":1,"type":"quantitative","scale":{"domain":[0.4,2.6]},"axis":null},"x2":{"datum":2},"y":{"datum":0.138,"type":"quantitative","scale":{"domain":[-0.566,0.187],"nice":false,"zero":false}}}},
{"data":{"values":[{}]},"mark":{"type":"text","fontSize":7,"color":"#555555","baseline":"bottom","dy":-1},"encoding":{"x":{"datum":1.5,"type":"quantitative","scale":{"domain":[0.4,2.6]},"axis":null},"y":{"datum":0.138,"type":"quantitative","scale":{"domain":[-0.566,0.187],"nice":false,"zero":false}},"text":{"value":"***"}}}
]},
{"width":248,"height":184,"resolve":{"scale":{"x":"independent"},"axis":{"x":"independent"}},"layer":[
{"data":{"name":"vio"},"transform":[{"filter":"datum.p=='B3'&&datum.g=='Low-risk'"}],"mark":{"type":"area","orient":"horizontal","interpolate":"monotone","stroke":"black","strokeWidth":0.8},"encoding":{"y":{"field":"v","type":"quantitative","scale":{"domain":[-0.588,0.775],"nice":false,"zero":false},"title":"TIDE","axis":{"values":[-0.5,-0.25,0,0.25,0.5,0.75],"format":".2f"}},"x":{"field":"d","type":"quantitative","stack":null,"scale":{"domain":[-0.6,1.6]},"axis":null},"fill":{"field":"g","type":"nominal","title":"Risk","scale":{"domain":["Low-risk","High-risk"],"range":["#2C64B2","#E41E1F"]},"legend":{"orient":"none","legendX":38,"legendY":-24}}}},
{"data":{"name":"vio"},"transform":[{"filter":"datum.p=='B3'&&datum.g=='Low-risk'"}],"mark":{"type":"area","orient":"horizontal","interpolate":"monotone","stroke":"black","strokeWidth":0.8},"encoding":{"y":{"field":"v","type":"quantitative","scale":{"domain":[-0.588,0.775],"nice":false,"zero":false}},"x":{"field":"d","type":"quantitative","stack":null,"scale":{"domain":[-1.6,0.6],"reverse":true},"axis":null},"fill":{"field":"g","type":"nominal","scale":{"domain":["Low-risk","High-risk"],"range":["#2C64B2","#E41E1F"]}}}},
{"data":{"name":"vio"},"transform":[{"filter":"datum.p=='B3'&&datum.g=='High-risk'"}],"mark":{"type":"area","orient":"horizontal","interpolate":"monotone","stroke":"black","strokeWidth":0.8},"encoding":{"y":{"field":"v","type":"quantitative","scale":{"domain":[-0.588,0.775],"nice":false,"zero":false}},"x":{"field":"d","type":"quantitative","stack":null,"scale":{"domain":[-1.6,0.6]},"axis":null},"fill":{"field":"g","type":"nominal","scale":{"domain":["Low-risk","High-risk"],"range":["#2C64B2","#E41E1F"]}}}},
{"data":{"name":"vio"},"transform":[{"filter":"datum.p=='B3'&&datum.g=='High-risk'"}],"mark":{"type":"area","orient":"horizontal","interpolate":"monotone","stroke":"black","strokeWidth":0.8},"encoding":{"y":{"field":"v","type":"quantitative","scale":{"domain":[-0.588,0.775],"nice":false,"zero":false}},"x":{"field":"d","type":"quantitative","stack":null,"scale":{"domain":[-0.6,1.6],"reverse":true},"axis":null},"fill":{"field":"g","type":"nominal","scale":{"domain":["Low-risk","High-risk"],"range":["#2C64B2","#E41E1F"]}}}},
{"data":{"name":"box"},"transform":[{"filter":"datum.p=='B3'"}],"mark":{"type":"rule","color":"black","strokeWidth":0.8},"encoding":{"x":{"field":"g","type":"nominal","scale":{"type":"point","domain":["Low-risk","High-risk"],"padding":0.6},"axis":null},"y":{"field":"lo","type":"quantitative","scale":{"domain":[-0.588,0.775],"nice":false,"zero":false}},"y2":{"field":"hi"}}},
{"data":{"name":"out"},"transform":[{"filter":"datum.p=='B3'"}],"mark":{"type":"point","filled":true,"color":"black","size":14,"opacity":1},"encoding":{"x":{"field":"g","type":"nominal","scale":{"type":"point","domain":["Low-risk","High-risk"],"padding":0.6},"axis":null},"y":{"field":"v","type":"quantitative","scale":{"domain":[-0.588,0.775],"nice":false,"zero":false}}}},
{"data":{"name":"box"},"transform":[{"filter":"datum.p=='B3'"}],"mark":{"type":"bar","fill":"white","stroke":"black","strokeWidth":0.8,"width":{"band":0.19}},"encoding":{"x":{"field":"g","type":"nominal","title":null,"scale":{"type":"band","domain":["Low-risk","High-risk"],"paddingInner":0,"paddingOuter":0.1},"axis":{"labelAngle":0}},"y":{"field":"q1","type":"quantitative","scale":{"domain":[-0.588,0.775],"nice":false,"zero":false}},"y2":{"field":"q3"}}},
{"data":{"name":"box"},"transform":[{"filter":"datum.p=='B3'"}],"mark":{"type":"tick","color":"black","size":21,"thickness":1.5},"encoding":{"x":{"field":"g","type":"nominal","scale":{"type":"point","domain":["Low-risk","High-risk"],"padding":0.6},"axis":null},"y":{"field":"med","type":"quantitative","scale":{"domain":[-0.588,0.775],"nice":false,"zero":false}}}},
{"data":{"values":[{}]},"mark":{"type":"rule","color":"#555555","strokeWidth":0.8},"encoding":{"x":{"datum":1,"type":"quantitative","scale":{"domain":[0.4,2.6]},"axis":null},"x2":{"datum":2},"y":{"datum":0.705,"type":"quantitative","scale":{"domain":[-0.588,0.775],"nice":false,"zero":false}}}},
{"data":{"values":[{}]},"mark":{"type":"text","fontSize":7,"color":"#555555","baseline":"bottom","dy":-1},"encoding":{"x":{"datum":1.5,"type":"quantitative","scale":{"domain":[0.4,2.6]},"axis":null},"y":{"datum":0.705,"type":"quantitative","scale":{"domain":[-0.588,0.775],"nice":false,"zero":false}},"text":{"value":"***"}}}
]},
{"width":248,"height":184,"resolve":{"scale":{"x":"independent"},"axis":{"x":"independent"}},"layer":[
{"data":{"name":"vio"},"transform":[{"filter":"datum.p=='B4'&&datum.g=='Low-risk'"}],"mark":{"type":"area","orient":"horizontal","interpolate":"monotone","stroke":"black","strokeWidth":0.8},"encoding":{"y":{"field":"v","type":"quantitative","scale":{"domain":[-0.51,1.51],"nice":false,"zero":false},"title":"MSI","axis":{"values":[-0.5,0,0.5,1,1.5],"format":".1f"}},"x":{"field":"d","type":"quantitative","stack":null,"scale":{"domain":[-0.6,1.6]},"axis":null},"fill":{"field":"g","type":"nominal","title":"Risk","scale":{"domain":["Low-risk","High-risk"],"range":["#2C64B2","#E41E1F"]},"legend":{"orient":"none","legendX":38,"legendY":-24}}}},
{"data":{"name":"vio"},"transform":[{"filter":"datum.p=='B4'&&datum.g=='Low-risk'"}],"mark":{"type":"area","orient":"horizontal","interpolate":"monotone","stroke":"black","strokeWidth":0.8},"encoding":{"y":{"field":"v","type":"quantitative","scale":{"domain":[-0.51,1.51],"nice":false,"zero":false}},"x":{"field":"d","type":"quantitative","stack":null,"scale":{"domain":[-1.6,0.6],"reverse":true},"axis":null},"fill":{"field":"g","type":"nominal","scale":{"domain":["Low-risk","High-risk"],"range":["#2C64B2","#E41E1F"]}}}},
{"data":{"name":"vio"},"transform":[{"filter":"datum.p=='B4'&&datum.g=='High-risk'"}],"mark":{"type":"area","orient":"horizontal","interpolate":"monotone","stroke":"black","strokeWidth":0.8},"encoding":{"y":{"field":"v","type":"quantitative","scale":{"domain":[-0.51,1.51],"nice":false,"zero":false}},"x":{"field":"d","type":"quantitative","stack":null,"scale":{"domain":[-1.6,0.6]},"axis":null},"fill":{"field":"g","type":"nominal","scale":{"domain":["Low-risk","High-risk"],"range":["#2C64B2","#E41E1F"]}}}},
{"data":{"name":"vio"},"transform":[{"filter":"datum.p=='B4'&&datum.g=='High-risk'"}],"mark":{"type":"area","orient":"horizontal","interpolate":"monotone","stroke":"black","strokeWidth":0.8},"encoding":{"y":{"field":"v","type":"quantitative","scale":{"domain":[-0.51,1.51],"nice":false,"zero":false}},"x":{"field":"d","type":"quantitative","stack":null,"scale":{"domain":[-0.6,1.6],"reverse":true},"axis":null},"fill":{"field":"g","type":"nominal","scale":{"domain":["Low-risk","High-risk"],"range":["#2C64B2","#E41E1F"]}}}},
{"data":{"name":"box"},"transform":[{"filter":"datum.p=='B4'"}],"mark":{"type":"bar","fill":"white","stroke":"black","strokeWidth":0.8,"width":{"band":0.19}},"encoding":{"x":{"field":"g","type":"nominal","title":null,"scale":{"type":"band","domain":["Low-risk","High-risk"],"paddingInner":0,"paddingOuter":0.1},"axis":{"labelAngle":0}},"y":{"field":"q1","type":"quantitative","scale":{"domain":[-0.51,1.51],"nice":false,"zero":false}},"y2":{"field":"q3"}}},
{"data":{"name":"box"},"transform":[{"filter":"datum.p=='B4'"}],"mark":{"type":"tick","color":"black","size":21,"thickness":1.5},"encoding":{"x":{"field":"g","type":"nominal","scale":{"type":"point","domain":["Low-risk","High-risk"],"padding":0.6},"axis":null},"y":{"field":"med","type":"quantitative","scale":{"domain":[-0.51,1.51],"nice":false,"zero":false}}}},
{"data":{"values":[{}]},"mark":{"type":"rule","color":"#555555","strokeWidth":0.8},"encoding":{"x":{"datum":1,"type":"quantitative","scale":{"domain":[0.4,2.6]},"axis":null},"x2":{"datum":2},"y":{"datum":1.055,"type":"quantitative","scale":{"domain":[-0.51,1.51],"nice":false,"zero":false}}}},
{"data":{"values":[{}]},"mark":{"type":"text","fontSize":7,"color":"#555555","baseline":"bottom","dy":-1},"encoding":{"x":{"datum":1.5,"type":"quantitative","scale":{"domain":[0.4,2.6]},"axis":null},"y":{"datum":1.055,"type":"quantitative","scale":{"domain":[-0.51,1.51],"nice":false,"zero":false}},"text":{"value":"ns"}}}
]}
]},
{"title":{"text":"C","anchor":"start","frame":"bounds","offset":20,"fontSize":28,"dx":8},
"spacing":54,"bounds":"flush",
"resolve":{"scale":{"fill":"independent"},"legend":{"fill":"independent"}},
"hconcat":[
{"width":248,"height":176,"resolve":{"scale":{"x":"independent"},"axis":{"x":"independent"}},"layer":[
{"data":{"name":"vio"},"transform":[{"filter":"datum.p=='C1'&&datum.g=='Low-risk'"}],"mark":{"type":"area","orient":"horizontal","interpolate":"monotone","stroke":"black","strokeWidth":0.8},"encoding":{"y":{"field":"v","type":"quantitative","scale":{"domain":[2.63,11.31],"nice":false,"zero":false},"title":"IPS-CTLA4 and PD1/PDL1/PDL2 blocker","axis":{"values":[5,7.5,10],"format":".1f","titleFontSize":11}},"x":{"field":"d","type":"quantitative","stack":null,"scale":{"domain":[-0.6,1.6]},"axis":null},"fill":{"field":"g","type":"nominal","title":"Risk","scale":{"domain":["Low-risk","High-risk"],"range":["#2C64B2","#E41E1F"]},"legend":{"orient":"none","legendX":38,"legendY":-15}}}},
{"data":{"name":"vio"},"transform":[{"filter":"datum.p=='C1'&&datum.g=='Low-risk'"}],"mark":{"type":"area","orient":"horizontal","interpolate":"monotone","stroke":"black","strokeWidth":0.8},"encoding":{"y":{"field":"v","type":"quantitative","scale":{"domain":[2.63,11.31],"nice":false,"zero":false}},"x":{"field":"d","type":"quantitative","stack":null,"scale":{"domain":[-1.6,0.6],"reverse":true},"axis":null},"fill":{"field":"g","type":"nominal","scale":{"domain":["Low-risk","High-risk"],"range":["#2C64B2","#E41E1F"]}}}},
{"data":{"name":"vio"},"transform":[{"filter":"datum.p=='C1'&&datum.g=='High-risk'"}],"mark":{"type":"area","orient":"horizontal","interpolate":"monotone","stroke":"black","strokeWidth":0.8},"encoding":{"y":{"field":"v","type":"quantitative","scale":{"domain":[2.63,11.31],"nice":false,"zero":false}},"x":{"field":"d","type":"quantitative","stack":null,"scale":{"domain":[-1.6,0.6]},"axis":null},"fill":{"field":"g","type":"nominal","scale":{"domain":["Low-risk","High-risk"],"range":["#2C64B2","#E41E1F"]}}}},
{"data":{"name":"vio"},"transform":[{"filter":"datum.p=='C1'&&datum.g=='High-risk'"}],"mark":{"type":"area","orient":"horizontal","interpolate":"monotone","stroke":"black","strokeWidth":0.8},"encoding":{"y":{"field":"v","type":"quantitative","scale":{"domain":[2.63,11.31],"nice":false,"zero":false}},"x":{"field":"d","type":"quantitative","stack":null,"scale":{"domain":[-0.6,1.6],"reverse":true},"axis":null},"fill":{"field":"g","type":"nominal","scale":{"domain":["Low-risk","High-risk"],"range":["#2C64B2","#E41E1F"]}}}},
{"data":{"name":"box"},"transform":[{"filter":"datum.p=='C1'"}],"mark":{"type":"rule","color":"black","strokeWidth":0.8},"encoding":{"x":{"field":"g","type":"nominal","scale":{"type":"point","domain":["Low-risk","High-risk"],"padding":0.6},"axis":null},"y":{"field":"lo","type":"quantitative","scale":{"domain":[2.63,11.31],"nice":false,"zero":false}},"y2":{"field":"hi"}}},
{"data":{"name":"box"},"transform":[{"filter":"datum.p=='C1'"}],"mark":{"type":"bar","fill":"white","stroke":"black","strokeWidth":0.8,"width":{"band":0.19}},"encoding":{"x":{"field":"g","type":"nominal","title":null,"scale":{"type":"band","domain":["Low-risk","High-risk"],"paddingInner":0,"paddingOuter":0.1},"axis":{"labelAngle":0}},"y":{"field":"q1","type":"quantitative","scale":{"domain":[2.63,11.31],"nice":false,"zero":false}},"y2":{"field":"q3"}}},
{"data":{"name":"box"},"transform":[{"filter":"datum.p=='C1'"}],"mark":{"type":"tick","color":"black","size":21,"thickness":1.5},"encoding":{"x":{"field":"g","type":"nominal","scale":{"type":"point","domain":["Low-risk","High-risk"],"padding":0.6},"axis":null},"y":{"field":"med","type":"quantitative","scale":{"domain":[2.63,11.31],"nice":false,"zero":false}}}},
{"data":{"values":[{}]},"mark":{"type":"rule","color":"#555555","strokeWidth":0.8},"encoding":{"x":{"datum":1,"type":"quantitative","scale":{"domain":[0.4,2.6]},"axis":null},"x2":{"datum":2},"y":{"datum":10.23,"type":"quantitative","scale":{"domain":[2.63,11.31],"nice":false,"zero":false}}}},
{"data":{"values":[{}]},"mark":{"type":"text","fontSize":7,"color":"#555555","baseline":"bottom","dy":-1},"encoding":{"x":{"datum":1.5,"type":"quantitative","scale":{"domain":[0.4,2.6]},"axis":null},"y":{"datum":10.23,"type":"quantitative","scale":{"domain":[2.63,11.31],"nice":false,"zero":false}},"text":{"value":"***"}}}
]},
{"width":248,"height":176,"resolve":{"scale":{"x":"independent"},"axis":{"x":"independent"}},"layer":[
{"data":{"name":"vio"},"transform":[{"filter":"datum.p=='C2'&&datum.g=='Low-risk'"}],"mark":{"type":"area","orient":"horizontal","interpolate":"monotone","stroke":"black","strokeWidth":0.8},"encoding":{"y":{"field":"v","type":"quantitative","scale":{"domain":[2.97,11.2],"nice":false,"zero":false},"title":"IPS-CTLA4 blocker","axis":{"values":[3,5,7,9,11],"format":"d"}},"x":{"field":"d","type":"quantitative","stack":null,"scale":{"domain":[-0.6,1.6]},"axis":null},"fill":{"field":"g","type":"nominal","title":"Risk","scale":{"domain":["Low-risk","High-risk"],"range":["#2C64B2","#E41E1F"]},"legend":{"orient":"none","legendX":38,"legendY":-15}}}},
{"data":{"name":"vio"},"transform":[{"filter":"datum.p=='C2'&&datum.g=='Low-risk'"}],"mark":{"type":"area","orient":"horizontal","interpolate":"monotone","stroke":"black","strokeWidth":0.8},"encoding":{"y":{"field":"v","type":"quantitative","scale":{"domain":[2.97,11.2],"nice":false,"zero":false}},"x":{"field":"d","type":"quantitative","stack":null,"scale":{"domain":[-1.6,0.6],"reverse":true},"axis":null},"fill":{"field":"g","type":"nominal","scale":{"domain":["Low-risk","High-risk"],"range":["#2C64B2","#E41E1F"]}}}},
{"data":{"name":"vio"},"transform":[{"filter":"datum.p=='C2'&&datum.g=='High-risk'"}],"mark":{"type":"area","orient":"horizontal","interpolate":"monotone","stroke":"black","strokeWidth":0.8},"encoding":{"y":{"field":"v","type":"quantitative","scale":{"domain":[2.97,11.2],"nice":false,"zero":false}},"x":{"field":"d","type":"quantitative","stack":null,"scale":{"domain":[-1.6,0.6]},"axis":null},"fill":{"field":"g","type":"nominal","scale":{"domain":["Low-risk","High-risk"],"range":["#2C64B2","#E41E1F"]}}}},
{"data":{"name":"vio"},"transform":[{"filter":"datum.p=='C2'&&datum.g=='High-risk'"}],"mark":{"type":"area","orient":"horizontal","interpolate":"monotone","stroke":"black","strokeWidth":0.8},"encoding":{"y":{"field":"v","type":"quantitative","scale":{"domain":[2.97,11.2],"nice":false,"zero":false}},"x":{"field":"d","type":"quantitative","stack":null,"scale":{"domain":[-0.6,1.6],"reverse":true},"axis":null},"fill":{"field":"g","type":"nominal","scale":{"domain":["Low-risk","High-risk"],"range":["#2C64B2","#E41E1F"]}}}},
{"data":{"name":"box"},"transform":[{"filter":"datum.p=='C2'"}],"mark":{"type":"rule","color":"black","strokeWidth":0.8},"encoding":{"x":{"field":"g","type":"nominal","scale":{"type":"point","domain":["Low-risk","High-risk"],"padding":0.6},"axis":null},"y":{"field":"lo","type":"quantitative","scale":{"domain":[2.97,11.2],"nice":false,"zero":false}},"y2":{"field":"hi"}}},
{"data":{"name":"out"},"transform":[{"filter":"datum.p=='C2'"}],"mark":{"type":"point","filled":true,"color":"black","size":14,"opacity":1},"encoding":{"x":{"field":"g","type":"nominal","scale":{"type":"point","domain":["Low-risk","High-risk"],"padding":0.6},"axis":null},"y":{"field":"v","type":"quantitative","scale":{"domain":[2.97,11.2],"nice":false,"zero":false}}}},
{"data":{"name":"box"},"transform":[{"filter":"datum.p=='C2'"}],"mark":{"type":"bar","fill":"white","stroke":"black","strokeWidth":0.8,"width":{"band":0.19}},"encoding":{"x":{"field":"g","type":"nominal","title":null,"scale":{"type":"band","domain":["Low-risk","High-risk"],"paddingInner":0,"paddingOuter":0.1},"axis":{"labelAngle":0}},"y":{"field":"q1","type":"quantitative","scale":{"domain":[2.97,11.2],"nice":false,"zero":false}},"y2":{"field":"q3"}}},
{"data":{"name":"box"},"transform":[{"filter":"datum.p=='C2'"}],"mark":{"type":"tick","color":"black","size":21,"thickness":1.5},"encoding":{"x":{"field":"g","type":"nominal","scale":{"type":"point","domain":["Low-risk","High-risk"],"padding":0.6},"axis":null},"y":{"field":"med","type":"quantitative","scale":{"domain":[2.97,11.2],"nice":false,"zero":false}}}},
{"data":{"values":[{}]},"mark":{"type":"rule","color":"#555555","strokeWidth":0.8},"encoding":{"x":{"datum":1,"type":"quantitative","scale":{"domain":[0.4,2.6]},"axis":null},"x2":{"datum":2},"y":{"datum":10.33,"type":"quantitative","scale":{"domain":[2.97,11.2],"nice":false,"zero":false}}}},
{"data":{"values":[{}]},"mark":{"type":"text","fontSize":7,"color":"#555555","baseline":"bottom","dy":-1},"encoding":{"x":{"datum":1.5,"type":"quantitative","scale":{"domain":[0.4,2.6]},"axis":null},"y":{"datum":10.33,"type":"quantitative","scale":{"domain":[2.97,11.2],"nice":false,"zero":false}},"text":{"value":"***"}}}
]},
{"width":248,"height":176,"resolve":{"scale":{"x":"independent"},"axis":{"x":"independent"}},"layer":[
{"data":{"name":"vio"},"transform":[{"filter":"datum.p=='C3'&&datum.g=='Low-risk'"}],"mark":{"type":"area","orient":"horizontal","interpolate":"monotone","stroke":"black","strokeWidth":0.8},"encoding":{"y":{"field":"v","type":"quantitative","scale":{"domain":[3.85,11.1],"nice":false,"zero":false},"title":"IPS-PD1/PDL1/PDL2 blocker","axis":{"values":[4,6,8,10],"format":"d"}},"x":{"field":"d","type":"quantitative","stack":null,"scale":{"domain":[-0.6,1.6]},"axis":null},"fill":{"field":"g","type":"nominal","title":"Risk","scale":{"domain":["Low-risk","High-risk"],"range":["#2C64B2","#E41E1F"]},"legend":{"orient":"none","legendX":38,"legendY":-15}}}},
{"data":{"name":"vio"},"transform":[{"filter":"datum.p=='C3'&&datum.g=='Low-risk'"}],"mark":{"type":"area","orient":"horizontal","interpolate":"monotone","stroke":"black","strokeWidth":0.8},"encoding":{"y":{"field":"v","type":"quantitative","scale":{"domain":[3.85,11.1],"nice":false,"zero":false}},"x":{"field":"d","type":"quantitative","stack":null,"scale":{"domain":[-1.6,0.6],"reverse":true},"axis":null},"fill":{"field":"g","type":"nominal","scale":{"domain":["Low-risk","High-risk"],"range":["#2C64B2","#E41E1F"]}}}},
{"data":{"name":"vio"},"transform":[{"filter":"datum.p=='C3'&&datum.g=='High-risk'"}],"mark":{"type":"area","orient":"horizontal","interpolate":"monotone","stroke":"black","strokeWidth":0.8},"encoding":{"y":{"field":"v","type":"quantitative","scale":{"domain":[3.85,11.1],"nice":false,"zero":false}},"x":{"field":"d","type":"quantitative","stack":null,"scale":{"domain":[-1.6,0.6]},"axis":null},"fill":{"field":"g","type":"nominal","scale":{"domain":["Low-risk","High-risk"],"range":["#2C64B2","#E41E1F"]}}}},
{"data":{"name":"vio"},"transform":[{"filter":"datum.p=='C3'&&datum.g=='High-risk'"}],"mark":{"type":"area","orient":"horizontal","interpolate":"monotone","stroke":"black","strokeWidth":0.8},"encoding":{"y":{"field":"v","type":"quantitative","scale":{"domain":[3.85,11.1],"nice":false,"zero":false}},"x":{"field":"d","type":"quantitative","stack":null,"scale":{"domain":[-0.6,1.6],"reverse":true},"axis":null},"fill":{"field":"g","type":"nominal","scale":{"domain":["Low-risk","High-risk"],"range":["#2C64B2","#E41E1F"]}}}},
{"data":{"name":"box"},"transform":[{"filter":"datum.p=='C3'"}],"mark":{"type":"rule","color":"black","strokeWidth":0.8},"encoding":{"x":{"field":"g","type":"nominal","scale":{"type":"point","domain":["Low-risk","High-risk"],"padding":0.6},"axis":null},"y":{"field":"lo","type":"quantitative","scale":{"domain":[3.85,11.1],"nice":false,"zero":false}},"y2":{"field":"hi"}}},
{"data":{"name":"out"},"transform":[{"filter":"datum.p=='C3'"}],"mark":{"type":"point","filled":true,"color":"black","size":14,"opacity":1},"encoding":{"x":{"field":"g","type":"nominal","scale":{"type":"point","domain":["Low-risk","High-risk"],"padding":0.6},"axis":null},"y":{"field":"v","type":"quantitative","scale":{"domain":[3.85,11.1],"nice":false,"zero":false}}}},
{"data":{"name":"box"},"transform":[{"filter":"datum.p=='C3'"}],"mark":{"type":"bar","fill":"white","stroke":"black","strokeWidth":0.8,"width":{"band":0.19}},"encoding":{"x":{"field":"g","type":"nominal","title":null,"scale":{"type":"band","domain":["Low-risk","High-risk"],"paddingInner":0,"paddingOuter":0.1},"axis":{"labelAngle":0}},"y":{"field":"q1","type":"quantitative","scale":{"domain":[3.85,11.1],"nice":false,"zero":false}},"y2":{"field":"q3"}}},
{"data":{"name":"box"},"transform":[{"filter":"datum.p=='C3'"}],"mark":{"type":"tick","color":"black","size":21,"thickness":1.5},"encoding":{"x":{"field":"g","type":"nominal","scale":{"type":"point","domain":["Low-risk","High-risk"],"padding":0.6},"axis":null},"y":{"field":"med","type":"quantitative","scale":{"domain":[3.85,11.1],"nice":false,"zero":false}}}},
{"data":{"values":[{}]},"mark":{"type":"rule","color":"#555555","strokeWidth":0.8},"encoding":{"x":{"datum":1,"type":"quantitative","scale":{"domain":[0.4,2.6]},"axis":null},"x2":{"datum":2},"y":{"datum":10.24,"type":"quantitative","scale":{"domain":[3.85,11.1],"nice":false,"zero":false}}}},
{"data":{"values":[{}]},"mark":{"type":"text","fontSize":7,"color":"#555555","baseline":"bottom","dy":-1},"encoding":{"x":{"datum":1.5,"type":"quantitative","scale":{"domain":[0.4,2.6]},"axis":null},"y":{"datum":10.24,"type":"quantitative","scale":{"domain":[3.85,11.1],"nice":false,"zero":false}},"text":{"value":"***"}}}
]},
{"width":248,"height":176,"resolve":{"scale":{"x":"independent"},"axis":{"x":"independent"}},"layer":[
{"data":{"name":"vio"},"transform":[{"filter":"datum.p=='C4'&&datum.g=='Low-risk'"}],"mark":{"type":"area","orient":"horizontal","interpolate":"monotone","stroke":"black","strokeWidth":0.8},"encoding":{"y":{"field":"v","type":"quantitative","scale":{"domain":[5.08,10.94],"nice":false,"zero":false},"title":"IPS","axis":{"values":[6,7,8,9,10],"format":"d"}},"x":{"field":"d","type":"quantitative","stack":null,"scale":{"domain":[-0.6,1.6]},"axis":null},"fill":{"field":"g","type":"nominal","title":"Risk","scale":{"domain":["Low-risk","High-risk"],"range":["#2C64B2","#E41E1F"]},"legend":{"orient":"none","legendX":38,"legendY":-15}}}},
{"data":{"name":"vio"},"transform":[{"filter":"datum.p=='C4'&&datum.g=='Low-risk'"}],"mark":{"type":"area","orient":"horizontal","interpolate":"monotone","stroke":"black","strokeWidth":0.8},"encoding":{"y":{"field":"v","type":"quantitative","scale":{"domain":[5.08,10.94],"nice":false,"zero":false}},"x":{"field":"d","type":"quantitative","stack":null,"scale":{"domain":[-1.6,0.6],"reverse":true},"axis":null},"fill":{"field":"g","type":"nominal","scale":{"domain":["Low-risk","High-risk"],"range":["#2C64B2","#E41E1F"]}}}},
{"data":{"name":"vio"},"transform":[{"filter":"datum.p=='C4'&&datum.g=='High-risk'"}],"mark":{"type":"area","orient":"horizontal","interpolate":"monotone","stroke":"black","strokeWidth":0.8},"encoding":{"y":{"field":"v","type":"quantitative","scale":{"domain":[5.08,10.94],"nice":false,"zero":false}},"x":{"field":"d","type":"quantitative","stack":null,"scale":{"domain":[-1.6,0.6]},"axis":null},"fill":{"field":"g","type":"nominal","scale":{"domain":["Low-risk","High-risk"],"range":["#2C64B2","#E41E1F"]}}}},
{"data":{"name":"vio"},"transform":[{"filter":"datum.p=='C4'&&datum.g=='High-risk'"}],"mark":{"type":"area","orient":"horizontal","interpolate":"monotone","stroke":"black","strokeWidth":0.8},"encoding":{"y":{"field":"v","type":"quantitative","scale":{"domain":[5.08,10.94],"nice":false,"zero":false}},"x":{"field":"d","type":"quantitative","stack":null,"scale":{"domain":[-0.6,1.6],"reverse":true},"axis":null},"fill":{"field":"g","type":"nominal","scale":{"domain":["Low-risk","High-risk"],"range":["#2C64B2","#E41E1F"]}}}},
{"data":{"name":"box"},"transform":[{"filter":"datum.p=='C4'"}],"mark":{"type":"rule","color":"black","strokeWidth":0.8},"encoding":{"x":{"field":"g","type":"nominal","scale":{"type":"point","domain":["Low-risk","High-risk"],"padding":0.6},"axis":null},"y":{"field":"lo","type":"quantitative","scale":{"domain":[5.08,10.94],"nice":false,"zero":false}},"y2":{"field":"hi"}}},
{"data":{"name":"out"},"transform":[{"filter":"datum.p=='C4'"}],"mark":{"type":"point","filled":true,"color":"black","size":14,"opacity":1},"encoding":{"x":{"field":"g","type":"nominal","scale":{"type":"point","domain":["Low-risk","High-risk"],"padding":0.6},"axis":null},"y":{"field":"v","type":"quantitative","scale":{"domain":[5.08,10.94],"nice":false,"zero":false}}}},
{"data":{"name":"box"},"transform":[{"filter":"datum.p=='C4'"}],"mark":{"type":"bar","fill":"white","stroke":"black","strokeWidth":0.8,"width":{"band":0.19}},"encoding":{"x":{"field":"g","type":"nominal","title":null,"scale":{"type":"band","domain":["Low-risk","High-risk"],"paddingInner":0,"paddingOuter":0.1},"axis":{"labelAngle":0}},"y":{"field":"q1","type":"quantitative","scale":{"domain":[5.08,10.94],"nice":false,"zero":false}},"y2":{"field":"q3"}}},
{"data":{"name":"box"},"transform":[{"filter":"datum.p=='C4'"}],"mark":{"type":"tick","color":"black","size":21,"thickness":1.5},"encoding":{"x":{"field":"g","type":"nominal","scale":{"type":"point","domain":["Low-risk","High-risk"],"padding":0.6},"axis":null},"y":{"field":"med","type":"quantitative","scale":{"domain":[5.08,10.94],"nice":false,"zero":false}}}},
{"data":{"values":[{}]},"mark":{"type":"rule","color":"#555555","strokeWidth":0.8},"encoding":{"x":{"datum":1,"type":"quantitative","scale":{"domain":[0.4,2.6]},"axis":null},"x2":{"datum":2},"y":{"datum":10.22,"type":"quantitative","scale":{"domain":[5.08,10.94],"nice":false,"zero":false}}}},
{"data":{"values":[{}]},"mark":{"type":"text","fontSize":7,"color":"#555555","baseline":"bottom","dy":-1},"encoding":{"x":{"datum":1.5,"type":"quantitative","scale":{"domain":[0.4,2.6]},"axis":null},"y":{"datum":10.22,"type":"quantitative","scale":{"domain":[5.08,10.94],"nice":false,"zero":false}},"text":{"value":"ns"}}}
]}
]}
],
"config":{
"font":"Liberation Sans",
"view":{"stroke":null},
"axis":{"grid":false,"domainColor":"black","tickColor":"black","labelColor":"#1a1a1a","titleColor":"black","titleFontWeight":"normal","domainWidth":1,"tickWidth":1,"tickSize":4,"labelFont":"Liberation Sans","titleFont":"Liberation Sans","labelPadding":2,"labelOverlap":false},
"axisY":{"labelFontSize":10,"labelFontWeight":"bold","titleFontSize":13,"titlePadding":4},
"axisX":{"labelFontSize":13},
"legend":{"direction":"horizontal","titleOrient":"left","titleFontWeight":"normal","titleFontSize":13,"labelFontSize":13,"symbolType":"square","symbolSize":220,"symbolStrokeColor":"black","symbolStrokeWidth":1,"symbolOpacity":1,"labelColor":"black","titleColor":"black","columnPadding":6,"labelOffset":3,"titlePadding":4},
"title":{"font":"Liberation Sans","fontWeight":"bold","color":"black"}
}
}
